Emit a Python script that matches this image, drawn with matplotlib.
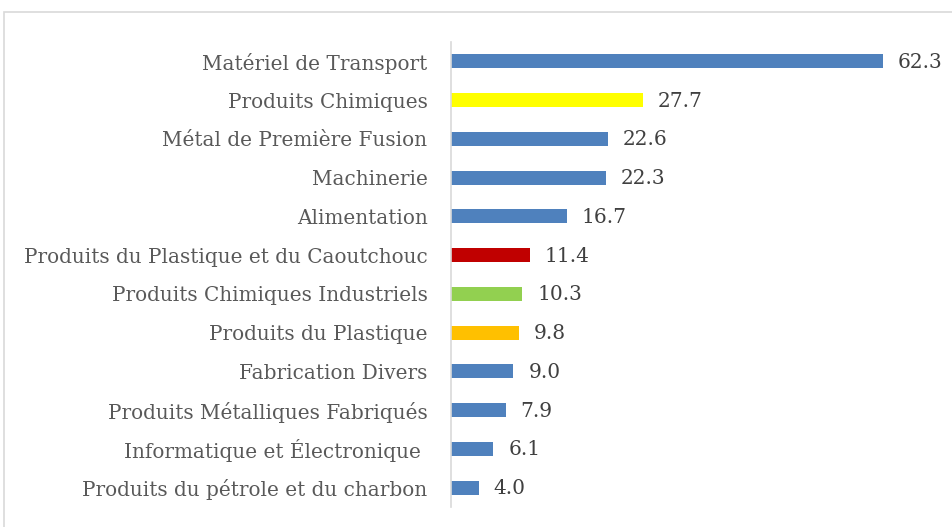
import matplotlib.pyplot as plt
from matplotlib.patches import Rectangle

# categories, top to bottom
categories = ["Matériel de Transport", "Produits Chimiques", "Métal de Première Fusion",
              "Machinerie", "Alimentation", "Produits du Plastique et du Caoutchouc",
              "Produits Chimiques Industriels", "Produits du Plastique", "Fabrication Divers",
              "Produits Métalliques Fabriqués", "Informatique et Électronique ",
              "Produits du pétrole et du charbon"]
values = [62.3, 27.7, 22.6, 22.3, 16.7, 11.4, 10.3, 9.8, 9.0, 7.9, 6.1, 4.0]
colors = ["#4F81BD", "#FFFF00", "#4F81BD", "#4F81BD", "#4F81BD", "#C00000",
          "#92D050", "#FFC000", "#4F81BD", "#4F81BD", "#4F81BD", "#4F81BD"]

plt.rcParams['font.family'] = ['DejaVu Serif']

fig = plt.figure(figsize=(9.53, 5.27), dpi=100)
fig.patches.append(Rectangle((4 / 953, -0.1), 1.1, 1 - 12 / 527 + 0.1,
                             transform=fig.transFigure, fill=False,
                             edgecolor="#D9D9D9", linewidth=1.2))

ax = fig.add_axes([451 / 953, 20 / 527, 485 / 953, 465 / 527])
ypos = list(range(len(categories)))
bars = ax.barh(ypos, values, height=0.36, color=colors)
ax.set_ylim(len(categories) - 0.5, -0.5)
ax.set_xlim(0, 70)

ax.set_yticks(ypos)
ax.set_yticklabels(categories, fontsize=14.4, color="#595959")
ax.tick_params(axis="y", length=0, pad=17)
ax.set_xticks([])

for b, v in zip(bars, values):
    ax.annotate(f"{v:.1f}", (b.get_width(), b.get_y() + b.get_height() / 2),
                xytext=(15, -1), textcoords="offset pixels",
                va="center", ha="left", fontsize=14.5, color="#404040")

for s in ["top", "right", "bottom"]:
    ax.spines[s].set_visible(False)
ax.spines["left"].set_color("#D9D9D9")
ax.spines["left"].set_linewidth(1.2)

fig.savefig("out.png", dpi=100)
